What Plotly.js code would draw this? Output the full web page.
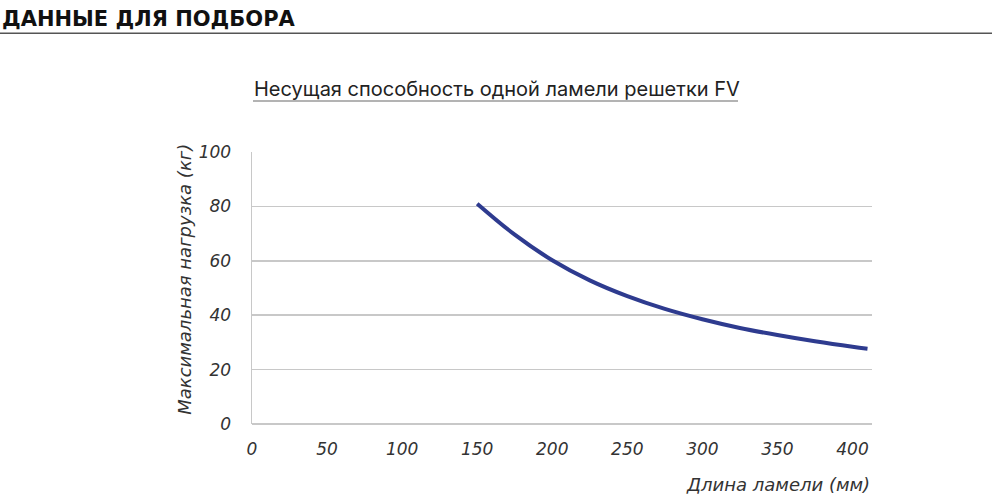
<!DOCTYPE html>
<html>
<head>
<meta charset="utf-8">
<script src="https://cdn.plot.ly/plotly-3.0.1.min.js"></script>
<style>
  html, body { margin: 0; padding: 0; background: #fff; }
  #chart { width: 992px; height: 495px; }
</style>
</head>
<body>
<div id="chart"></div>
<script>
// lamella length (mm) and max load (kg)
const lengths = [150, 175, 200, 225, 250, 275, 300, 325, 350, 375, 400, 410];
const loads = [81, 69.6, 60.2, 52.8, 47.0, 42.3, 38.5, 35.3, 32.7, 30.4, 28.4, 27.7];

const xTicks = [0, 50, 100, 150, 200, 250, 300, 350, 400];
const yTicks = [0, 20, 40, 60, 80, 100];

const headerText = 'ДАННЫЕ ДЛЯ ПОДБОРА';
const chartTitle = 'Несущая способность одной ламели решетки FV';
const xTitle = 'Длина ламели (мм)';
const yTitle = 'Максимальная нагрузка (кг)';

const tickFont = {family: 'DejaVu Sans', size: 17, color: '#333', style: 'italic'};
const titleFont = {family: 'DejaVu Sans', size: 18, color: '#333', style: 'italic'};

const trace = {
    x: lengths,
    y: loads,
    mode: 'lines',
    type: 'scatter',
    line: {color: '#2e3b8f', width: 4, shape: 'spline', smoothing: 1},
    hoverinfo: 'skip'
};

// plot area is 620 x 272.5 px; helpers turn page pixels into paper coords
const px = (x) => (x - 252) / 620;
const py = (y) => (424.5 - y) / 272.5;

const layout = {
    width: 992,
    height: 495,
    paper_bgcolor: '#fff',
    plot_bgcolor: '#fff',
    showlegend: false,
    margin: {l: 252, r: 120, t: 152, b: 70.5},
    xaxis: {
        range: [0, 413],
        tickvals: xTicks,
        showgrid: false,
        zeroline: false,
        showline: false,
        ticks: '',
        ticklabelstandoff: 13,
        tickfont: tickFont
    },
    yaxis: {
        range: [0, 100],
        tickvals: yTicks,
        showgrid: true,
        gridcolor: '#c8c8c8',
        gridwidth: 1.5,
        zeroline: true,
        zerolinecolor: '#c8c8c8',
        zerolinewidth: 1.5,
        showline: true,
        linecolor: '#c8c8c8',
        linewidth: 1.5,
        ticks: '',
        ticklabelstandoff: 16,
        tickfont: tickFont
    },
    annotations: [
        {
            text: headerText, xref: 'paper', yref: 'paper',
            x: px(0), y: py(19),
            xanchor: 'left', yanchor: 'middle', showarrow: false,
            font: {family: 'DejaVu Sans', size: 21, color: '#111', weight: 'bold'}
        },
        {
            text: chartTitle, xref: 'paper', yref: 'paper',
            x: 0, y: py(89),
            xanchor: 'left', yanchor: 'middle', showarrow: false,
            font: {family: 'Inter', size: 20, color: '#222'}
        },
        {
            text: yTitle, xref: 'paper', yref: 'paper',
            x: px(185), y: py(280), textangle: -90,
            xanchor: 'center', yanchor: 'middle', showarrow: false,
            font: titleFont
        },
        {
            text: xTitle, xref: 'paper', yref: 'paper',
            x: 1, y: py(485),
            xanchor: 'right', yanchor: 'middle', showarrow: false,
            font: titleFont
        }
    ],
    shapes: [
        // rule under the page header
        {type: 'line', xref: 'paper', yref: 'paper',
         x0: px(0), x1: px(992), y0: py(33), y1: py(33),
         line: {color: '#555', width: 1.5}},
        // underline of the chart title
        {type: 'line', xref: 'paper', yref: 'paper',
         x0: px(253), x1: px(738), y0: py(101), y1: py(101),
         line: {color: '#9a9a9a', width: 1.5}}
    ]
};

Plotly.newPlot('chart', [trace], layout, {staticPlot: true, displayModeBar: false});
</script>
</body>
</html>
